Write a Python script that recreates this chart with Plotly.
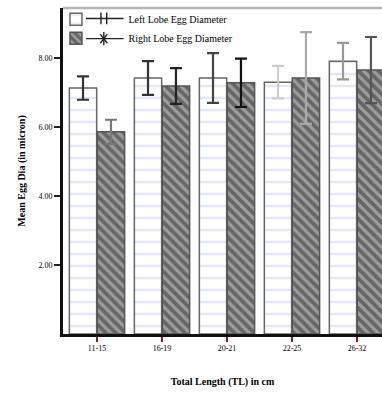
import plotly.graph_objects as go

# Total length classes (cm)
length_classes = ["11-15", "16-19", "20-21", "22-25", "26-32"]

# Mean egg diameter and spread for each lobe
left_lobe_mean = [7.13, 7.42, 7.42, 7.30, 7.91]
left_lobe_err = [0.34, 0.49, 0.72, 0.47, 0.53]
right_lobe_mean = [5.86, 7.19, 7.28, 7.42, 7.65]
right_lobe_err = [0.35, 0.52, 0.70, 1.33, 0.96]

# error bar ink for each bar
left_err_colors = ["#333333", "#333333", "#444444", "#cccccc", "#999999"]
right_err_colors = ["#777777", "#222222", "#111111", "#aaaaaa", "#555555"]

BAR_W = 0.42
OFF = 0.215
idx = list(range(len(length_classes)))
serif = "Liberation Serif"
pad = "&nbsp;" * 13

fig = go.Figure()

fig.add_trace(go.Bar(
    x=[i - OFF for i in idx], y=left_lobe_mean, width=BAR_W,
    name=pad + "Left Lobe Egg Diameter",
    marker=dict(color="white", line=dict(color="#666666", width=1.5),
                pattern=dict(shape="-", fgcolor="#c5d1f5", bgcolor="white",
                             size=12, solidity=0.2)),
))
fig.add_trace(go.Bar(
    x=[i + OFF for i in idx], y=right_lobe_mean, width=BAR_W,
    name=pad + "Right Lobe Egg Diameter",
    marker=dict(color="#8a8a8a", line=dict(color="#555555", width=1.5),
                pattern=dict(shape="\\", fgcolor="#d4d4d4", bgcolor="#666666",
                             size=7, solidity=0.45)),
))

# error bars, one per bar so each can carry its own ink
for xs, ms, es, cs in [([i - OFF for i in idx], left_lobe_mean, left_lobe_err, left_err_colors),
                       ([i + OFF for i in idx], right_lobe_mean, right_lobe_err, right_err_colors)]:
    for x, m, e, c in zip(xs, ms, es, cs):
        fig.add_trace(go.Scatter(
            x=[x], y=[m], mode="markers", marker=dict(size=1, opacity=0),
            error_y=dict(type="data", array=[e], color=c, thickness=2.2, width=6),
            showlegend=False, hoverinfo="skip",
        ))

# line glyphs in the legend between swatch and label
line_style = dict(color="#222", width=1.4)
ys = [0.968, 0.906]
for yy in ys:
    fig.add_shape(type="line", xref="paper", yref="paper",
                  x0=0.072, x1=0.19, y0=yy, y1=yy, line=line_style)
# error-bar glyph (first entry)
y0 = ys[0]
for dx in [0.119, 0.137]:
    fig.add_shape(type="line", xref="paper", yref="paper",
                  x0=dx, x1=dx, y0=y0 - 0.018, y1=y0 + 0.018, line=line_style)
# asterisk glyph (second entry)
y1 = ys[1]
fig.add_shape(type="line", xref="paper", yref="paper",
              x0=0.128, x1=0.128, y0=y1 - 0.02, y1=y1 + 0.02, line=line_style)
fig.add_shape(type="line", xref="paper", yref="paper",
              x0=0.117, x1=0.139, y0=y1 - 0.014, y1=y1 + 0.014, line=line_style)
fig.add_shape(type="line", xref="paper", yref="paper",
              x0=0.117, x1=0.139, y0=y1 + 0.014, y1=y1 - 0.014, line=line_style)

fig.update_layout(
    width=382, height=394,
    margin=dict(l=63, r=0, t=8, b=60),
    plot_bgcolor="white", paper_bgcolor="white",
    barmode="overlay",
    font=dict(family=serif, color="black", size=9),
    showlegend=True,
    legend=dict(x=-0.022, y=1.01, xanchor="left", yanchor="top",
                bgcolor="rgba(255,255,255,0)", itemwidth=30,
                font=dict(family=serif, size=10, color="black"),
                tracegroupgap=0, itemclick=False),
    xaxis=dict(
        range=[-0.523, 4.385], tickmode="array", tickvals=idx, ticktext=length_classes,
        showgrid=False, zeroline=False, showline=True, linecolor="#111", linewidth=2.5,
        ticks="outside", ticklen=5, tickwidth=2, tickcolor="#8b1a1a",
        tickfont=dict(family=serif, size=8),
        title=dict(text="<b>Total Length (TL) in cm</b>", font=dict(family=serif, size=10),
                   standoff=26),
    ),
    yaxis=dict(
        range=[0, 9.45], tickmode="array", tickvals=[2, 4, 6, 8],
        ticktext=["2.00", "4.00", "6.00", "8.00"],
        showgrid=False, zeroline=False, showline=True, linecolor="#111", linewidth=3,
        ticks="outside", ticklen=6, tickwidth=2, tickcolor="#222",
        tickfont=dict(family=serif, size=8),
        title=dict(text="<b>Mean Egg Dia (in micron)</b>", font=dict(family=serif, size=10),
                   standoff=11),
    ),
)

# grey frame line along the top of the plotting area
fig.add_shape(type="line", xref="paper", yref="paper", x0=0, x1=1, y0=1, y1=1,
              line=dict(color="#b5b5b5", width=2.5))

fig.write_html("out.html")
